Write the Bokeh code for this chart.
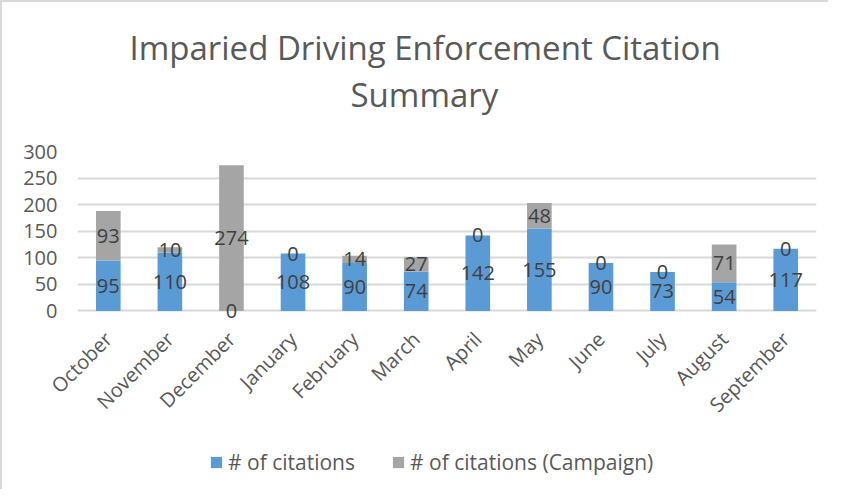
import math
from bokeh.plotting import figure
from bokeh.layouts import column
from bokeh.models import ColumnDataSource, Legend, LegendItem, FactorRange, Title
from bokeh.core.properties import value
from bokeh.embed import file_html
from bokeh.resources import INLINE

months = ["October", "November", "December", "January", "February", "March",
          "April", "May", "June", "July", "August", "September"]
citations = [95, 110, 0, 108, 90, 74, 142, 155, 90, 73, 54, 117]
campaign = [93, 10, 274, 0, 14, 27, 0, 48, 0, 0, 71, 0]
y_ticks = [0, 50, 100, 150, 200, 250, 300]
title_lines = ["Imparied Driving Enforcement Citation", "Summary"]
series_names = ["# of citations", "# of citations (Campaign)"]

BLUE = "#5B9BD5"
GRAY = "#A5A5A5"
FONT = "Open Sans"
TXT = "#595959"

src = ColumnDataSource(dict(
    month=months,
    citations=citations,
    campaign=campaign,
    mid_c=[c / 2 for c in citations],
    mid_g=[c + g / 2 for c, g in zip(citations, campaign)],
    lab_c=[str(c) for c in citations],
    lab_g=[str(g) for g in campaign],
))

p = figure(width=826, height=428, x_range=FactorRange(*months), y_range=(-20, 300),
           output_backend="svg", toolbar_location=None,
           min_border_left=75, min_border_right=12, min_border_top=149, min_border_bottom=109)
p.x_range.range_padding = 0
p.outline_line_color = None

p.title.text = ""
p.title.text_font_size = "1px"
p.title.standoff = 0
p.add_layout(Title(text=" ", text_font_size="10px", standoff=22), "above")
p.add_layout(Title(text=title_lines[1], align="left", text_font=FONT, text_font_style="normal",
                   text_font_size="33px", text_color=TXT, standoff=0, offset=273), "above")
p.add_layout(Title(text=title_lines[0], align="left", text_font=FONT, text_font_style="normal",
                   text_font_size="33px", text_color=TXT, standoff=0, offset=52), "above")

rs = p.vbar_stack(["citations", "campaign"], x="month", width=0.4, color=[BLUE, GRAY],
                  line_color=None, source=src)

p.text(x="month", y="mid_c", text="lab_c", source=src, text_align="center",
       text_baseline="middle", text_font=value(FONT), text_font_size="20px", text_color="#404040")
p.text(x="month", y="mid_g", text="lab_g", source=src, text_align="center",
       text_baseline="middle", text_font=value(FONT), text_font_size="20px", text_color="#404040")

p.yaxis.ticker = y_ticks
p.yaxis.axis_line_color = None
p.yaxis.major_tick_line_color = None
p.yaxis.minor_tick_line_color = None
p.yaxis.major_label_text_font = FONT
p.yaxis.major_label_text_font_size = "20px"
p.yaxis.major_label_text_color = TXT
p.yaxis.major_label_standoff = 14

p.xaxis.axis_line_color = None
p.xaxis.major_tick_line_color = None
p.xaxis.minor_tick_line_color = None
p.xaxis.major_label_orientation = math.pi / 4
p.xaxis.major_label_text_font = FONT
p.xaxis.major_label_text_font_size = "20px"
p.xaxis.major_label_text_color = TXT
p.xaxis.major_label_standoff = 8

p.xgrid.grid_line_color = None
p.ygrid.grid_line_color = "#d9d9d9"
p.ygrid.grid_line_width = 2

# legend strip
p2 = figure(width=826, height=59, x_range=FactorRange(*months), y_range=(1000, 1001),
            output_backend="svg", toolbar_location=None, min_border=0,
            x_axis_location=None, y_axis_location=None)
p2.outline_line_color = None
p2.grid.grid_line_color = None
rs2 = p2.vbar_stack(["citations", "campaign"], x="month", width=0.4, color=[BLUE, GRAY],
                    line_color=None, source=src)
legend = Legend(items=[LegendItem(label=series_names[0], renderers=[rs2[0]]),
                       LegendItem(label=series_names[1], renderers=[rs2[1]])],
                orientation="horizontal", location=(132, 13),
                glyph_width=14, glyph_height=14, label_standoff=5, spacing=36,
                padding=0, margin=0, border_line_alpha=0, background_fill_alpha=0,
                label_text_font=FONT, label_text_font_size="21px", label_text_color=TXT)
p2.add_layout(legend, "center")

layout = column(p, p2, spacing=0)
layout.styles = {"border-left": "2px solid #d9d9d9", "border-top": "2px solid #d9d9d9"}

open("out.html", "w").write(file_html(layout, INLINE))
